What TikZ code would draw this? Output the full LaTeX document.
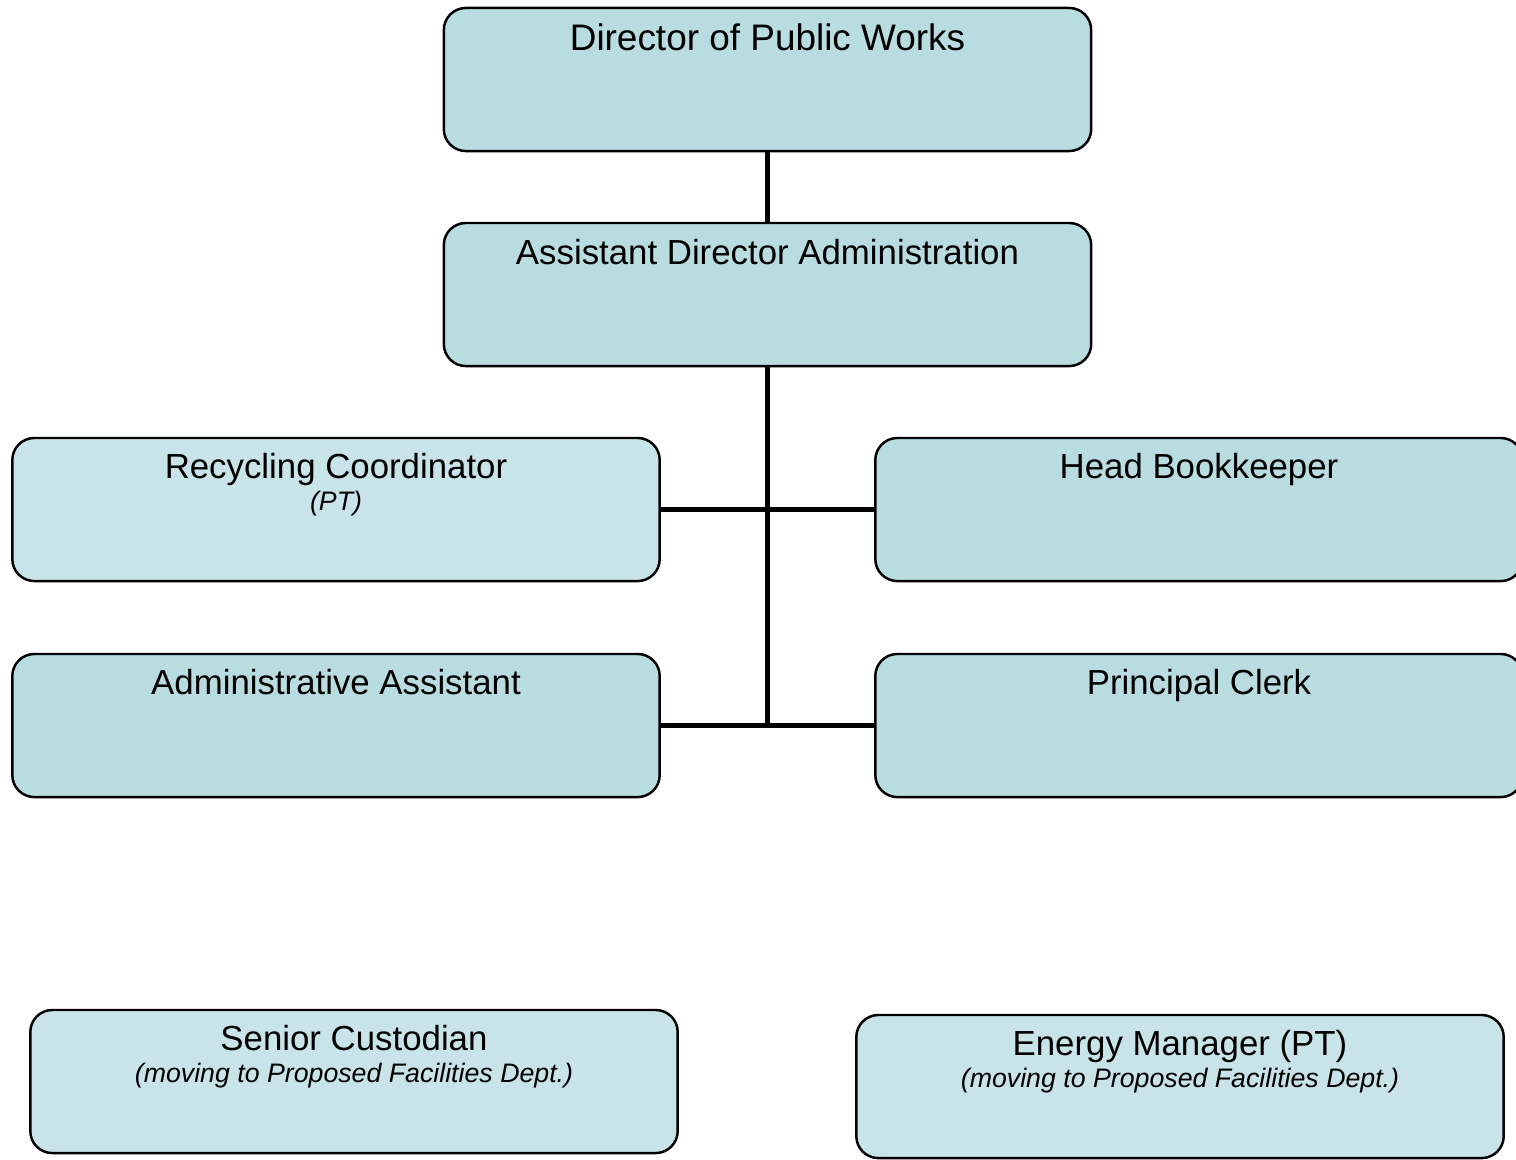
\documentclass[tikz,border=0pt]{standalone}
\usepackage{fontspec}
\setmainfont{Liberation Sans}
\usetikzlibrary{positioning}
\definecolor{boxfill}{HTML}{B8DCE0}
\definecolor{ptfill}{HTML}{C8E4E9}
\tikzset{
  box/.style={draw=black, line width=0.7pt, fill=boxfill, rounded corners=0.22cm,
    minimum width=6.47cm, minimum height=1.43cm, inner sep=0pt},
  ptbox/.style={box, fill=ptfill},
  ttl/.style={inner sep=0pt, text height=0.72em, text depth=0.2em,
    font=\fontsize{9.9}{12}\selectfont},
  ttlbig/.style={ttl, font=\fontsize{10.5}{12}\selectfont},
  sub/.style={inner sep=0pt, text height=0.72em, text depth=0.2em,
    font=\fontsize{7.6}{9}\selectfont\itshape},
  conn/.style={line width=1.6pt}
}
\begin{document}
\begin{tikzpicture}[x=0.01cm, y=-0.01cm]
\useasboundingbox (0,0) rectangle (1516,1159);
% boxes
\node[box] (dir) at (767.5,79.5) {};
\node[box] (asst) at (767.5,294.5) {};
\node[ptbox] (rec) at (336,509.5) {};
\node[box] (book) at (1199,509.5) {};
\node[box] (adm) at (336,725.5) {};
\node[box] (clerk) at (1199,725.5) {};
\node[ptbox] (cust) at (354,1081.5) {};
\node[ptbox] (energy) at (1180,1086.5) {};
% titles
\node[ttlbig] (dirT) at ([yshift=-0.35cm]dir.north) {Director of Public Works};
\node[ttl] (asstT) at ([yshift=-0.34cm]asst.north) {Assistant Director Administration};
\node[ttl] (recT) at ([yshift=-0.33cm]rec.north) {Recycling Coordinator};
\node[sub] (recS) at ([yshift=-0.65cm]rec.north) {(PT)};
\node[ttl] (bookT) at ([yshift=-0.33cm]book.north) {Head Bookkeeper};
\node[ttl] (admT) at ([yshift=-0.33cm]adm.north) {Administrative Assistant};
\node[ttl] (clerkT) at ([yshift=-0.33cm]clerk.north) {Principal Clerk};
\node[ttl] (custT) at ([yshift=-0.33cm]cust.north) {Senior Custodian};
\node[sub] (custS) at ([yshift=-0.65cm]cust.north) {(moving to Proposed Facilities Dept.)};
\node[ttl] (energyT) at ([yshift=-0.33cm]energy.north) {Energy Manager (PT)};
\node[sub] (energyS) at ([yshift=-0.65cm]energy.north) {(moving to Proposed Facilities Dept.)};
% connectors
\draw[conn] (dir.south) -- (asst.north);
\draw[conn] (asst.south) -- (asst.south |- adm.east);
\draw[conn] (rec.east) -- (book.west);
\draw[conn] (adm.east) -- (clerk.west);
\end{tikzpicture}
\end{document}
